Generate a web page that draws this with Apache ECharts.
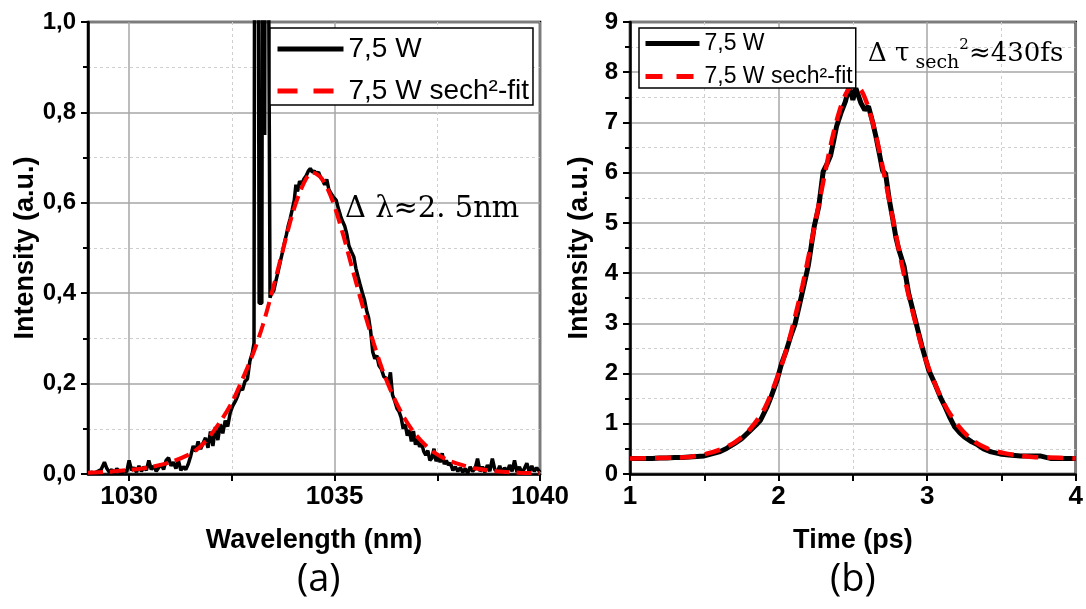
<!DOCTYPE html>
<html><head><meta charset="utf-8">
<script src="https://cdn.jsdelivr.net/npm/echarts@6/dist/echarts.min.js"></script>
<style>html,body{margin:0;padding:0;background:#fff}#c{width:1086px;height:609px}</style>
</head><body><div id="c"></div>
<script>
// ---------- data ----------
const seriesNames = ['7,5 W', '7,5 W sech²-fit'];

// (a) spectrum: [wavelength nm, intensity a.u.]
const specData = [
[1029.00,0.000],[1029.08,0.004],[1029.16,0.002],[1029.24,0.006],[1029.32,0.010],[1029.40,0.026],[1029.46,0.012],[1029.52,0.004],
[1029.58,0.010],[1029.64,0.000],[1029.70,0.012],[1029.76,0.006],[1029.82,0.002],[1029.88,0.008],[1029.94,0.004],[1030.00,0.030],
[1030.06,0.008],[1030.12,0.014],[1030.18,0.004],[1030.24,0.018],[1030.30,0.006],[1030.36,0.016],[1030.42,0.008],[1030.48,0.030],
[1030.54,0.010],[1030.60,0.018],[1030.66,0.006],[1030.72,0.014],[1030.78,0.022],[1030.84,0.010],[1030.90,0.030],[1030.96,0.036],
[1031.02,0.018],[1031.08,0.026],[1031.14,0.012],[1031.20,0.030],[1031.26,0.008],[1031.32,0.016],[1031.38,0.010],[1031.44,0.022],
[1031.50,0.040],[1031.56,0.062],[1031.62,0.050],[1031.68,0.072],[1031.74,0.055],[1031.80,0.068],[1031.86,0.080],[1031.92,0.058],
[1031.98,0.094],[1032.04,0.062],[1032.10,0.104],[1032.16,0.075],[1032.22,0.110],[1032.28,0.090],[1032.34,0.118],[1032.40,0.105],
[1032.46,0.135],[1032.52,0.150],[1032.58,0.160],[1032.64,0.172],[1032.70,0.190],[1032.76,0.186],[1032.82,0.205],[1032.88,0.210],
[1032.94,0.250],[1033.00,0.268],[1033.04,0.290],[1033.07,2.200],[1033.10,1.300],[1033.12,2.200],[1033.165,0.378],[1033.23,0.378],
[1033.27,2.500],[1033.30,0.750],[1033.33,2.500],[1033.43,0.390],[1033.47,0.400],[1033.52,0.405],[1033.58,0.430],[1033.62,0.445],
[1033.68,0.470],[1033.73,0.490],
[1033.78,0.512],[1033.83,0.530],[1033.87,0.548],[1033.92,0.565],[1033.97,0.585],[1034.02,0.606],[1034.06,0.640],[1034.10,0.625],
[1034.15,0.648],[1034.20,0.640],[1034.25,0.652],[1034.31,0.660],[1034.36,0.670],[1034.41,0.676],[1034.46,0.668],[1034.51,0.670],
[1034.56,0.664],[1034.61,0.668],[1034.66,0.656],[1034.71,0.650],[1034.76,0.640],[1034.81,0.652],[1034.86,0.630],[1034.92,0.620],
[1034.98,0.612],[1035.04,0.606],[1035.10,0.585],[1035.15,0.570],[1035.20,0.558],[1035.25,0.548],[1035.30,0.530],[1035.35,0.505],
[1035.41,0.492],[1035.47,0.480],[1035.52,0.455],[1035.57,0.437],[1035.62,0.420],[1035.68,0.400],[1035.73,0.385],[1035.78,0.362],
[1035.83,0.345],[1035.88,0.315],[1035.93,0.270],[1035.98,0.255],[1036.03,0.262],[1036.08,0.240],[1036.14,0.232],[1036.20,0.215],
[1036.26,0.212],[1036.31,0.200],[1036.36,0.225],[1036.41,0.175],[1036.47,0.160],[1036.52,0.145],[1036.57,0.138],[1036.62,0.125],
[1036.67,0.100],[1036.72,0.110],[1036.77,0.085],[1036.82,0.098],[1036.87,0.072],[1036.92,0.095],[1036.97,0.065],[1037.02,0.078],
[1037.07,0.060],[1037.12,0.068],[1037.17,0.050],[1037.22,0.042],[1037.27,0.052],[1037.32,0.030],[1037.37,0.035],[1037.42,0.056],
[1037.47,0.028],[1037.52,0.040],[1037.57,0.026],[1037.62,0.046],[1037.67,0.022],[1037.72,0.030],[1037.77,0.020],[1037.82,0.024],
[1037.88,0.008],[1037.94,0.016],[1038.00,0.006],[1038.06,0.014],[1038.12,0.004],[1038.18,0.012],[1038.24,0.002],[1038.30,0.016],
[1038.36,0.006],[1038.42,0.012],[1038.48,0.034],[1038.54,0.006],[1038.60,0.016],[1038.66,0.004],[1038.72,0.020],[1038.78,0.006],
[1038.84,0.034],[1038.90,0.010],[1038.96,0.004],[1039.02,0.018],[1039.08,0.002],[1039.14,0.014],[1039.20,0.004],[1039.26,0.020],
[1039.32,0.006],[1039.38,0.030],[1039.44,0.004],[1039.50,0.016],[1039.56,0.002],[1039.62,0.012],[1039.68,0.024],[1039.74,0.004],
[1039.80,0.018],[1039.86,0.006],[1039.92,0.014],[1040.00,0.004]
];
const specFit = [
[1029.00,0.003],[1029.50,0.005],[1030.00,0.009],[1030.50,0.015],[1031.00,0.026],[1031.50,0.045],[1031.75,0.062],[1032.00,0.088],
[1032.25,0.120],[1032.50,0.158],[1032.75,0.208],[1033.00,0.262],[1033.25,0.328],[1033.50,0.410],[1033.75,0.498],[1034.00,0.583],
[1034.25,0.643],[1034.45,0.667],[1034.70,0.652],[1034.95,0.605],[1035.20,0.532],[1035.45,0.448],[1035.70,0.366],[1035.95,0.290],
[1036.20,0.222],[1036.45,0.168],[1036.70,0.124],[1036.95,0.090],[1037.20,0.065],[1037.45,0.046],[1037.70,0.033],[1037.95,0.024],
[1038.45,0.012],[1038.95,0.006],[1039.50,0.003],[1040.00,0.002]
];
// (b) autocorrelation: [time ps, intensity a.u.]
const acData = [
[1.00,0.31],[1.05,0.31],[1.10,0.31],[1.15,0.31],[1.20,0.32],[1.25,0.32],[1.30,0.33],[1.35,0.33],[1.40,0.34],[1.45,0.35],
[1.50,0.36],[1.55,0.40],[1.60,0.44],[1.65,0.51],[1.70,0.60],[1.75,0.70],[1.80,0.84],[1.85,0.98],[1.88,1.08],[1.92,1.32],
[1.95,1.54],[1.99,1.87],[2.02,2.20],[2.05,2.44],[2.08,2.73],[2.11,2.98],[2.14,3.36],[2.17,3.75],[2.20,4.15],[2.24,4.93],
[2.27,5.32],[2.30,6.02],[2.33,6.20],[2.35,6.34],[2.37,6.62],[2.39,6.92],[2.42,7.19],[2.45,7.42],[2.475,7.72],[2.50,7.45],
[2.52,7.68],[2.555,7.38],[2.58,7.25],[2.605,7.32],[2.635,6.98],[2.655,6.72],[2.68,6.35],[2.70,6.04],[2.72,5.98],[2.745,5.46],
[2.77,5.05],[2.79,4.70],[2.81,4.46],[2.845,4.13],[2.875,3.60],[2.92,3.07],[2.965,2.54],[3.01,2.07],[3.05,1.81],[3.09,1.52],
[3.12,1.34],[3.15,1.14],[3.185,0.94],[3.22,0.82],[3.25,0.74],[3.30,0.64],[3.34,0.58],[3.38,0.50],[3.43,0.44],[3.49,0.40],
[3.55,0.38],[3.63,0.36],[3.70,0.36],[3.76,0.36],[3.80,0.33],[3.83,0.31],[3.90,0.31],[4.00,0.31]
];
const acFit = [
[1.00,0.31],[1.20,0.32],[1.40,0.34],[1.51,0.40],[1.61,0.49],[1.71,0.64],[1.81,0.90],[1.91,1.33],[2.01,2.08],[2.06,2.55],
[2.11,3.12],[2.16,3.74],[2.21,4.45],[2.26,5.21],[2.31,5.96],[2.36,6.67],[2.41,7.23],[2.46,7.61],[2.51,7.75],[2.56,7.62],
[2.61,7.24],[2.66,6.68],[2.71,5.97],[2.76,5.22],[2.81,4.46],[2.86,3.75],[2.91,3.14],[2.96,2.57],[3.01,2.11],[3.11,1.42],
[3.21,0.96],[3.31,0.66],[3.41,0.50],[3.51,0.42],[3.61,0.37],[3.71,0.34],[3.81,0.33],[4.00,0.31]
];
// tick definitions
const specXMajor = [1030, 1035, 1040];
const specXMinor = [1032.5, 1037.5];
const specXRange = [1029, 1040];
const specYRange = [0, 1, 0.2];
const acXRange = [1, 4, 1];
const acYRange = [0, 9, 1];
const panelLabels = ['(a)', '(b)'];
const axisTitles = ['Wavelength (nm)', 'Time (ps)', 'Intensity (a.u.)'];

// ---------- styles ----------
const SANS = 'Liberation Sans, Arial, sans-serif';
const black = '#000';
const majorGrid = { show: true, lineStyle: { color: '#a6a6a6', width: 1.5 } };
const minorGrid = { show: true, lineStyle: { color: '#cfcfcf', width: 1, type: [3, 3] } };
const axLine = { show: true, onZero: false, lineStyle: { color: black, width: 2.5 } };
const tick = (extra) => Object.assign({ show: true, inside: false, length: 7, lineStyle: { color: black, width: 2 } }, extra || {});
const xLbl = (extra) => Object.assign({ color: black, fontSize: 26, fontWeight: 'bold', fontFamily: SANS, margin: 10, formatter: v => String(v) }, extra || {});
const yLbl = (extra) => Object.assign({ color: black, fontSize: 24, fontWeight: 'bold', fontFamily: SANS, margin: 12 }, extra || {});
const nameStyle = { color: black, fontSize: 27, fontWeight: 'bold', fontFamily: SANS };
const hideSym = { opacity: 0, color: 'rgba(0,0,0,0)', borderWidth: 0 };

const chart = echarts.init(document.getElementById('c'), null, { renderer: 'canvas' });

const option = {
  animation: false,
  backgroundColor: '#fff',
  grid: [
    { left: 88, top: 22, width: 452, height: 452, show: true, borderColor: black, borderWidth: 2.5, containLabel: false },
    { left: 630, top: 22, width: 452, height: 452, show: true, borderColor: black, borderWidth: 2.5, containLabel: false }
  ],
  xAxis: [
    { gridIndex: 0, type: 'value', position: 'bottom', min: specXRange[0], max: specXRange[1],
      axisLine: axLine, axisTick: tick({ customValues: specXMajor }),
      axisLabel: xLbl({ customValues: specXMajor }), splitLine: majorGrid,
      name: axisTitles[0], nameLocation: 'middle', nameGap: 53, nameTextStyle: nameStyle },
    { gridIndex: 0, type: 'value', position: 'bottom', min: specXRange[0], max: specXRange[1],
      axisLine: { show: false }, axisTick: tick({ customValues: specXMinor }),
      axisLabel: { show: false }, splitLine: minorGrid },
    { gridIndex: 1, type: 'value', position: 'bottom', min: acXRange[0], max: acXRange[1], interval: acXRange[2],
      axisLine: axLine, axisTick: tick(), axisLabel: xLbl(),
      minorTick: { show: true, splitNumber: 2, length: 7, lineStyle: { color: black, width: 2 } },
      splitLine: majorGrid, minorSplitLine: minorGrid,
      name: axisTitles[1], nameLocation: 'middle', nameGap: 53, nameTextStyle: nameStyle }
  ],
  yAxis: [
    { gridIndex: 0, type: 'value', min: specYRange[0], max: specYRange[1], interval: specYRange[2],
      axisLine: axLine, axisTick: tick(),
      axisLabel: yLbl({ formatter: v => v.toFixed(1).replace('.', ',') }),
      minorTick: { show: true, splitNumber: 2, length: 5, lineStyle: { color: black, width: 2 } },
      splitLine: majorGrid, minorSplitLine: minorGrid,
      name: axisTitles[2], nameLocation: 'middle', nameGap: 45, nameRotate: 90, nameTextStyle: nameStyle },
    { gridIndex: 1, type: 'value', min: acYRange[0], max: acYRange[1], interval: acYRange[2],
      axisLine: axLine, axisTick: tick(), axisLabel: yLbl(),
      minorTick: { show: true, splitNumber: 2, length: 5, lineStyle: { color: black, width: 2 } },
      splitLine: majorGrid, minorSplitLine: minorGrid,
      name: axisTitles[2], nameLocation: 'middle', nameGap: 37, nameRotate: 90, nameTextStyle: nameStyle }
  ],
  legend: [
    { orient: 'vertical', left: 270, top: 28, padding: [7, 4, 0, 5], itemGap: 14, itemWidth: 66, itemHeight: 26,
      borderColor: black, borderWidth: 1.5, backgroundColor: '#fff', selectedMode: false, z: 10,
      textStyle: { fontSize: 28, color: black, fontFamily: SANS },
      data: [
        { name: seriesNames[0], itemStyle: hideSym, lineStyle: { color: black, width: 5, type: 'solid' } },
        { name: seriesNames[1], itemStyle: hideSym, lineStyle: { color: '#ff0000', width: 5, type: [20, 16] } }
      ] },
    { orient: 'vertical', left: 639, top: 28, padding: [4, 3, 0, 4], itemGap: 10, itemWidth: 54, itemHeight: 22,
      borderColor: black, borderWidth: 1.5, backgroundColor: '#fff', selectedMode: false, z: 10,
      textStyle: { fontSize: 23, color: black, fontFamily: SANS },
      data: [
        { name: seriesNames[0], itemStyle: hideSym, lineStyle: { color: black, width: 5, type: 'solid' } },
        { name: seriesNames[1], itemStyle: hideSym, lineStyle: { color: '#ff0000', width: 5, type: [17, 14] } }
      ] }
  ],
  series: [
    { type: 'line', name: seriesNames[0], xAxisIndex: 0, yAxisIndex: 0, data: specData, symbol: 'none',
      lineStyle: { color: black, width: 3.5 }, itemStyle: { color: black }, clip: true, z: 3 },
    { type: 'line', name: seriesNames[1], xAxisIndex: 0, yAxisIndex: 0, data: specFit, symbol: 'none', smooth: 0.3,
      lineStyle: { color: '#ff0000', width: 4, type: [15, 7] }, itemStyle: { color: '#ff0000' }, clip: true, z: 4 },
    { type: 'line', name: seriesNames[0], xAxisIndex: 2, yAxisIndex: 1, data: acData, symbol: 'none',
      lineStyle: { color: black, width: 5 }, itemStyle: { color: black }, clip: true, z: 3 },
    { type: 'line', name: seriesNames[1], xAxisIndex: 2, yAxisIndex: 1, data: acFit, symbol: 'none', smooth: 0.3,
      lineStyle: { color: '#ff0000', width: 4.5, type: [16, 9] }, itemStyle: { color: '#ff0000' }, clip: true, z: 4 }
  ],
  graphic: [
    { type: 'text', left: 345, top: 195, z: 20,
      style: { text: 'Δ λ≈2. 5nm', font: '29px "DejaVu Serif", serif', fill: black } },
    { type: 'text', left: 868, top: 35, z: 20,
      style: { text: '{m|Δ τ}{s| sech}{p|2}{m|≈430fs}', fill: black,
        rich: {
          m: { fontSize: 26, fontFamily: 'DejaVu Serif', lineHeight: 38, verticalAlign: 'middle' },
          s: { fontSize: 19, fontFamily: 'DejaVu Serif', lineHeight: 19, verticalAlign: 'bottom' },
          p: { fontSize: 15, fontFamily: 'DejaVu Serif', lineHeight: 18, padding: [3, 0, 0, 0], verticalAlign: 'top' }
        } } },
    { type: 'text', left: 297, top: 561, z: 20,
      style: { text: panelLabels[0], font: '38px "Open Sans", sans-serif', fill: black } },
    { type: 'text', left: 830, top: 561, z: 20,
      style: { text: panelLabels[1], font: '38px "Open Sans", sans-serif', fill: black } }
  ]
};
chart.setOption(option);
</script>
</body></html>
